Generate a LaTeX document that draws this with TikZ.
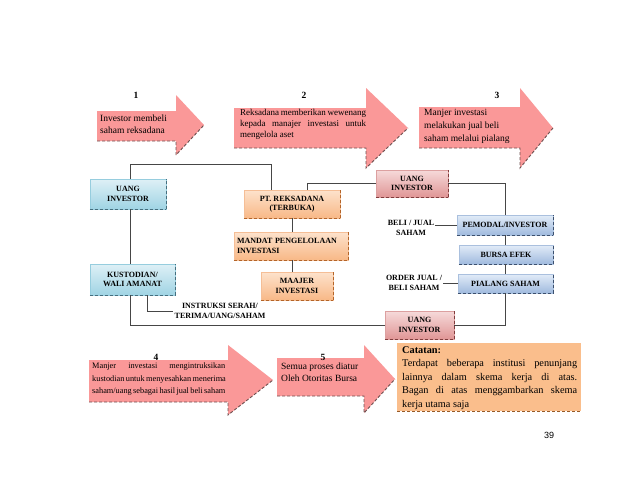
\documentclass[tikz,border=0pt]{standalone}
\usepackage{fontspec}
\setmainfont{Liberation Serif}
\newfontfamily\pgnumfont{Liberation Sans}
\definecolor{arrowpink}{RGB}{250,152,152}
\definecolor{arrowdash}{RGB}{110,80,80}
\definecolor{blueT}{RGB}{222,240,246}
\definecolor{blueB}{RGB}{160,212,228}
\definecolor{blueE}{RGB}{150,205,222}
\definecolor{blueD}{RGB}{70,110,125}
\definecolor{orT}{RGB}{253,226,204}
\definecolor{orB}{RGB}{248,184,135}
\definecolor{orE}{RGB}{245,190,150}
\definecolor{orD}{RGB}{180,100,40}
\definecolor{pkT}{RGB}{246,218,218}
\definecolor{pkB}{RGB}{224,150,150}
\definecolor{pkE}{RGB}{220,160,160}
\definecolor{pkD}{RGB}{130,60,60}
\definecolor{bgT}{RGB}{226,236,248}
\definecolor{bgB}{RGB}{160,186,222}
\definecolor{bgE}{RGB}{170,192,222}
\definecolor{bgD}{RGB}{60,80,110}
\definecolor{noteFill}{RGB}{250,190,140}
\definecolor{noteDash}{RGB}{150,90,40}
\definecolor{linec}{RGB}{70,70,70}
\newcommand\myarrow[7]{%
  \fill[arrowpink] (#1,#2) -- (#4,#2) -- (#4,#5) -- (#7,{(#5+#6)/2}) -- (#4,#6) -- (#4,#3) -- (#1,#3) -- cycle;
  \draw[arrowdash, dash pattern=on 3pt off 2pt, line width=0.9pt] (#1,#3) -- (#4,#3) -- (#4,#6) -- (#7,{(#5+#6)/2});
}
\newcommand\jline[2]{\makebox[#1][s]{#2}}
\tikzset{
  lbl/.style={font=\fontsize{8}{9.5}\selectfont\bfseries, align=center, inner sep=1pt},
  dshad/.style={append after command={(\tikzlastnode.south west) edge[draw=#1, dash pattern=on 3pt off 2pt, line width=0.9pt] (\tikzlastnode.south east) (\tikzlastnode.south east) edge[draw=#1, dash pattern=on 3pt off 2pt, line width=0.9pt] (\tikzlastnode.north east)}},
  boxbase/.style={lbl, line width=0.4pt},
  bluebox/.style={boxbase, top color=blueT, bottom color=blueB, draw=blueE, dshad=blueD},
  orbox/.style={boxbase, top color=orT, bottom color=orB, draw=orE, dshad=orD},
  pkbox/.style={boxbase, top color=pkT, bottom color=pkB, draw=pkE, dshad=pkD},
  bgbox/.style={boxbase, top color=bgT, bottom color=bgB, draw=bgE, dshad=bgD},
  atext/.style={font=\fontsize{9.5}{12}\selectfont, inner sep=0pt, align=left},
  num/.style={font=\fontsize{9.5}{11}\selectfont\bfseries, inner sep=0pt},
  conn/.style={draw=linec, line width=0.8pt},
}
\begin{document}
\begin{tikzpicture}[x=1pt,y=-1pt]
\useasboundingbox[fill=white] (0,0) rectangle (621,480);

% block arrows
\myarrow{97}{111}{141}{176}{95}{155}{204}
\myarrow{234}{108}{148}{366}{88}{168}{408}
\myarrow{419}{107}{148}{520}{88}{168}{553}
\myarrow{89}{360}{402}{228}{345}{415}{273}
\myarrow{277}{358}{396}{364}{345}{413}{395}

\node[num] (n1) at (136,95) {1};
\node[num] (n2) at (304,95) {2};
\node[num] (n3) at (497,95) {3};
\node[num] (n4) at (156,357) {4};
\node[num] (n5) at (323,357) {5};

\node[atext, anchor=west] (t1) at (100,124) {Investor membeli\\saham reksadana};
\node[atext, anchor=north west, font=\fontsize{9}{11}\selectfont] (t2) at (240,109)
  {\jline{126pt}{Reksadana memberikan wewenang}\\\jline{126pt}{kepada manajer investasi untuk}\\mengelola aset};
\node[atext, anchor=north west, font=\fontsize{9.5}{13}\selectfont] (t3) at (424,109)
  {Manjer investasi\\melakukan jual beli\\saham melalui pialang};
\node[atext, anchor=north west, font=\fontsize{8.3}{12.5}\selectfont] (t4) at (92,363)
  {\jline{133pt}{Manjer investasi mengintruksikan}\\\jline{133pt}{kustodian untuk menyesahkan menerima}\\\jline{133pt}{saham/uang sebagai hasil jual beli saham}};
\node[atext, anchor=north west] (t5) at (281,363)
  {Semua proses diatur\\Oleh Otoritas Bursa};

% note box
\fill[noteFill] (397,343) rectangle (581,411);
\draw[noteDash, dash pattern=on 3pt off 2pt, line width=0.9pt] (397,411) -- (581,411);
\node[atext, anchor=north west, font=\fontsize{10.3}{13.6}\selectfont] (note) at (402,346)
  {\textbf{Catatan:}\\\jline{175pt}{Terdapat beberapa institusi penunjang}\\\jline{175pt}{lainnya dalam skema kerja di atas.}\\\jline{175pt}{Bagan di atas menggambarkan skema}\\kerja utama saja};

\node[font=\pgnumfont\fontsize{9}{10}\selectfont, inner sep=0pt] (pg) at (549,435) {39};

% boxes
\node[bluebox, minimum width=76pt, minimum height=30pt] (uangL) at (128,194) {UANG\\INVESTOR};
\node[bluebox, minimum width=85pt, minimum height=31pt] (kust) at (132.5,279.5) {KUSTODIAN/\\WALI AMANAT};
\node[orbox, minimum width=96pt, minimum height=28pt] (ptr) at (292,204) {PT. REKSADANA\\(TERBUKA)};
\node[orbox, minimum width=114pt, minimum height=28pt, align=left, text width=108pt] (mandat) at (291,246) {MANDAT PENGELOLAAN\\INVESTASI};
\node[orbox, minimum width=72pt, minimum height=28pt] (maajer) at (297,286) {MAAJER\\INVESTASI};
\node[pkbox, minimum width=72pt, minimum height=27pt] (uangT) at (412,183.5) {UANG\\INVESTOR};
\node[bgbox, minimum width=96pt, minimum height=20pt] (pemodal) at (505,225) {PEMODAL/INVESTOR};
\node[bgbox, minimum width=94pt, minimum height=19pt] (bursa) at (506,254.5) {BURSA EFEK};
\node[bgbox, minimum width=95pt, minimum height=19pt] (pialang) at (505.5,283.5) {PIALANG SAHAM};
\node[pkbox, minimum width=69pt, minimum height=28pt] (uangB) at (419.5,325) {UANG\\INVESTOR};

% labels
\node[lbl] (beli) at (411,228) {BELI / JUAL\\SAHAM};
\node[lbl] (order) at (414,283) {ORDER JUAL /\\BELI SAHAM};
\node[lbl] (instr) at (220,311) {INSTRUKSI SERAH/\\TERIMA/UANG/SAHAM};

% connectors
\coordinate (topL) at (130,164);
\coordinate (botL) at (130,325);
\draw[conn] (uangL.north -| topL) -- (topL) -| ([xshift=-21pt]ptr.north);
\draw[conn] (uangL.south -| topL) -- (kust.north -| topL);
\draw[conn] (kust.south -| topL) -- (botL) -- (uangB.west);
\draw[conn] ([xshift=14.5pt]kust.south) |- (instr.west);
\draw[conn] ([xshift=15pt]ptr.north) |- (uangT.west);
\draw[conn] (uangT.east) -| (pemodal.north);
\draw[conn] (ptr.south) -- (ptr.south |- mandat.north);
\draw[conn] (ptr.south |- mandat.south) -- (ptr.south |- maajer.north);
\draw[conn] (pemodal.west -| beli.east) -- (pemodal.west);
\draw[conn] (pemodal.south) -- (bursa.north -| pemodal.south);
\draw[conn] (bursa.south -| pemodal.south) -- (pialang.north -| pemodal.south);
\draw[conn] (pialang.west -| order.east) -- (pialang.west);
\draw[conn] (pialang.south -| pemodal.south) |- (uangB.east);
\end{tikzpicture}
\end{document}
